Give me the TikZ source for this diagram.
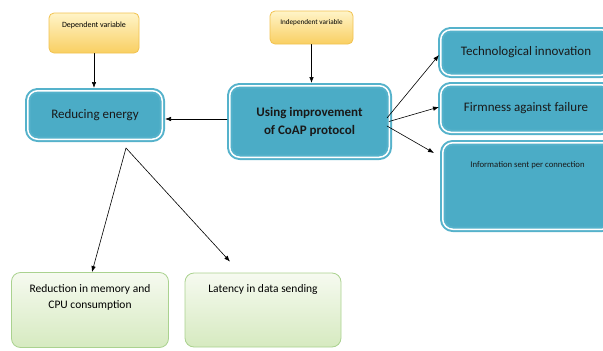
\documentclass[tikz,border=0pt]{standalone}
\usepackage{fontspec}
\setmainfont{Carlito}
\usetikzlibrary{arrows.meta}
\definecolor{boxblue}{HTML}{4BACC6}
\definecolor{rimblue}{HTML}{55B2CB}
\definecolor{ylight}{HTML}{FFF4C8}
\definecolor{ydark}{HTML}{F9CF62}
\definecolor{yrim}{HTML}{F1C24F}
\definecolor{glight}{HTML}{F6FAF0}
\definecolor{gdark}{HTML}{D6EAC0}
\definecolor{grim}{HTML}{AAD28F}
\begin{document}
\begin{tikzpicture}[x=1pt,y=-1pt,>={Latex[length=6pt,width=4.5pt]}, line join=round, line cap=round,
  bluebox/.style={draw=rimblue, double=white, double distance=1.5pt, line width=2pt, fill=boxblue, rounded corners=10pt, inner sep=0pt, outer sep=2.75pt, text=black!90},
  yellowbox/.style={draw=yrim, line width=0.8pt, top color=ylight, bottom color=ydark, rounded corners=5pt, inner sep=0pt},
  greenbox/.style={draw=grim, line width=0.8pt, top color=glight, bottom color=gdark, rounded corners=9pt, inner sep=0pt},
  link/.style={->, line width=0.6pt}]
  \def\bigfont{\fontsize{13}{18}\selectfont}
  \def\greenfont{\fontsize{11.5}{16}\selectfont}
  \useasboundingbox (0,0) rectangle (603,351);
  \clip (0,0) rectangle (603,351);
  \node[yellowbox, font=\fontsize{8}{9.6}\selectfont] (dep) at (94,33) {\parbox[c][40pt][t]{90pt}{\centering\vspace*{9pt}Dependent variable}};
  \node[yellowbox, font=\fontsize{7.2}{8.6}\selectfont] (indep) at (311.5,27.5) {\parbox[c][33pt][t]{83pt}{\centering\vspace*{8.5pt}Independent variable}};
  \node[bluebox, font=\bigfont, minimum width=134.5pt, minimum height=48.5pt] (energy) at (95,115) {Reducing energy\hspace{8pt}};
  \node[bluebox, font=\bigfont\bfseries, align=center, minimum width=159.5pt, minimum height=71.5pt] (using) at (309.5,121.5) {Using improvement\\of CoAP protocol};
  \node[bluebox, font=\bigfont, minimum width=170.5pt, minimum height=45.5pt] (tech) at (526,52.5) {Technological innovation};
  \node[bluebox, font=\bigfont, minimum width=170.5pt, minimum height=47.5pt] (firm) at (526,108.5) {Firmness against failure};
  \node[bluebox, font=\fontsize{8.7}{10.4}\selectfont] (info) at (527.5,186) {\parbox[c][86.5pt][t]{169.5pt}{\centering\vspace*{19pt}Information sent per connection}};
  \node[greenbox, font=\greenfont] (mem) at (90,310) {\parbox[c][75pt][t]{157pt}{\centering\vspace*{12pt}Reduction in memory and\\CPU consumption}};
  \node[greenbox, font=\greenfont] (lat) at (263,310) {\parbox[c][74pt][t]{156pt}{\centering\vspace*{12pt}Latency in data sending}};
  \draw[link] (dep.south) -- (dep.south |- energy.north);
  \draw[link] (indep.south) -- (indep.south |- using.north);
  \draw[link] ([yshift=2.5pt]using.west) -- ([yshift=2.5pt]using.west -| energy.east);
  \draw[link] ([xshift=-5pt,yshift=3.5pt]using.east) -- ([xshift=1pt,yshift=-2.5pt]tech.west);
  \draw[link] ([xshift=-3pt]using.east) -- ([xshift=1pt,yshift=1.5pt]firm.west);
  \draw[link] ([xshift=-5pt,yshift=-4.5pt]using.east) -- ([xshift=-6pt,yshift=-13pt]info.north west);
  \draw[link] ([xshift=31pt,yshift=-6pt]energy.south) -- ([xshift=2pt]mem.north);
  \draw[link] ([xshift=31pt,yshift=-6pt]energy.south) -- ([xshift=-33pt,yshift=11pt]lat.north);
\end{tikzpicture}
\end{document}
